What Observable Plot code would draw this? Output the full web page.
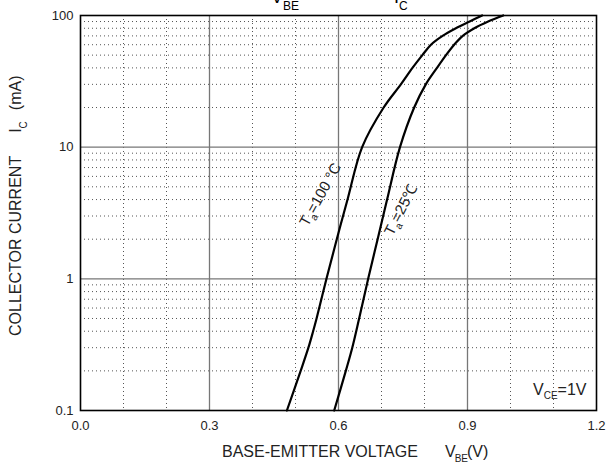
<!DOCTYPE html>
<html>
<head>
<meta charset="utf-8">
<script src="https://cdn.jsdelivr.net/npm/d3@7"></script>
<script src="https://cdn.jsdelivr.net/npm/@observablehq/plot@0.6"></script>
<style>
  html, body { margin: 0; padding: 0; background: #fff; }
  #chart svg { display: block; font-family: "Liberation Sans", Arial, sans-serif; }
</style>
</head>
<body>
<div id="chart"></div>
<script>
// Data
const vbe100 = [0.480, 0.512, 0.530, 0.541, 0.549, 0.572, 0.596, 0.621, 0.655, 0.705, 0.745, 0.772, 0.795, 0.815, 0.842, 0.873, 0.905, 0.934];
const ic100  = [0.1,   0.2,   0.3,   0.4,   0.5,   1,     2,     4,     10,    20,    30,    40,    50,    60,    70,    80,    90,    100];
const vbe25  = [0.590, 0.617, 0.632, 0.648, 0.669, 0.691, 0.713, 0.743, 0.776, 0.803, 0.829, 0.850, 0.869, 0.889, 0.916, 0.948, 0.983];
const ic25   = [0.1,   0.2,   0.3,   0.5,   1,     2,     4,     10,    20,    30,    40,    50,    60,    70,    80,    90,    100];
const xTicks = [0.0, 0.3, 0.6, 0.9, 1.2];
const xMajorGrid = [0.3, 0.6, 0.9];
const xMinorGrid = [0.1, 0.2, 0.4, 0.5, 0.7, 0.8, 1.0, 1.1];
const yTicks = [0.1, 1, 10, 100];
const yMajorGrid = [1, 10];
const yMinorGrid = [0.2,0.3,0.4,0.5,0.6,0.7,0.8,0.9, 2,3,4,5,6,7,8,9, 20,30,40,50,60,70,80,90];

const d100 = vbe100.map((v, i) => ({v, i: ic100[i]}));
const d25 = vbe25.map((v, i) => ({v, i: ic25[i]}));

const plot = Plot.plot({
  width: 606,
  height: 463,
  marginLeft: 80,
  marginRight: 10,
  marginTop: 15,
  marginBottom: 53,
  style: {fontFamily: "Liberation Sans, Arial, sans-serif", fontSize: "13px", color: "#222", background: "#fff"},
  x: {domain: [0, 1.2], ticks: xTicks, tickFormat: d3.format(".1f"), tickSize: 0, tickPadding: 10, label: null},
  y: {type: "log", domain: [0.1, 100], ticks: yTicks, tickFormat: d => String(d), tickSize: 0, tickPadding: 7, label: null},
  marks: [
    Plot.ruleX(xMinorGrid, {stroke: "#555", strokeDasharray: "1,3", strokeWidth: 1}),
    Plot.ruleY(yMinorGrid, {stroke: "#555", strokeDasharray: "1,3", strokeWidth: 1}),
    Plot.ruleX(xMajorGrid, {stroke: "#777", strokeWidth: 1.3}),
    Plot.ruleY(yMajorGrid, {stroke: "#777", strokeWidth: 1.3}),
    Plot.line(d100, {x: "v", y: "i", stroke: "#000", strokeWidth: 2.2, curve: "catmull-rom"}),
    Plot.line(d25, {x: "v", y: "i", stroke: "#000", strokeWidth: 2.2, curve: "catmull-rom"}),
    Plot.frame({stroke: "#000", strokeWidth: 1.6})
  ]
});

document.getElementById("chart").appendChild(plot);

const svg = d3.select(plot);
const sx = plot.scale("x"), sy = plot.scale("y");
const ff = "Liberation Sans, Arial, sans-serif";
function label() {
  return svg.append("text").attr("font-family", ff).attr("text-anchor", "start").attr("fill", "#222");
}

// Title (mostly cut off at the top)
const title = label().attr("font-size", 18).attr("fill", "#000").attr("x", 271).attr("y", 3);
title.append("tspan").text("V");
title.append("tspan").attr("font-size", 12).attr("dy", 7).text("BE");
title.append("tspan").attr("x", 394).attr("dy", -7).text("I");
title.append("tspan").attr("font-size", 12).attr("dy", 7).text("C");

// Y axis label
const yl = label().attr("font-size", 16).attr("transform", "translate(21,336) rotate(-90)");
yl.append("tspan").text("COLLECTOR CURRENT");
yl.append("tspan").attr("dx", 23).text("I");
yl.append("tspan").attr("font-size", 10).attr("dy", 6).text("C");
yl.append("tspan").attr("dy", -6).attr("dx", 11).text("(mA)");

// X axis label
const xl = label().attr("font-size", 16).attr("x", 222).attr("y", 457);
xl.append("tspan").text("BASE-EMITTER VOLTAGE");
xl.append("tspan").attr("x", 445).text("V");
xl.append("tspan").attr("font-size", 10).attr("dy", 5).attr("dx", -1).text("BE");
xl.append("tspan").attr("dy", -5).attr("dx", -1).text("(V)");

// V_CE annotation
const vce = label().attr("font-size", 16).attr("x", 533).attr("y", 395);
vce.append("tspan").text("V");
vce.append("tspan").attr("font-size", 10).attr("dy", 4).text("CE");
vce.append("tspan").attr("dy", -4).text("=1V");

// Curve labels
function curveLabel(v, i, angle, main, rest) {
  const t = svg.append("text").attr("font-family", ff).attr("font-size", 15).attr("fill", "#222")
    .attr("text-anchor", "middle").attr("dominant-baseline", "middle")
    .attr("transform", `translate(${sx.apply(v)},${sy.apply(i)}) rotate(${angle})`);
  t.append("tspan").text(main);
  t.append("tspan").attr("font-size", 10).attr("dy", 5).text("a");
  t.append("tspan").attr("dy", -5).text(rest);
}
curveLabel(0.561, 4.3, -61, "T", "=100 °C");
curveLabel(0.748, 3.3, -63, "T", "=25℃");
</script>
</body>
</html>
